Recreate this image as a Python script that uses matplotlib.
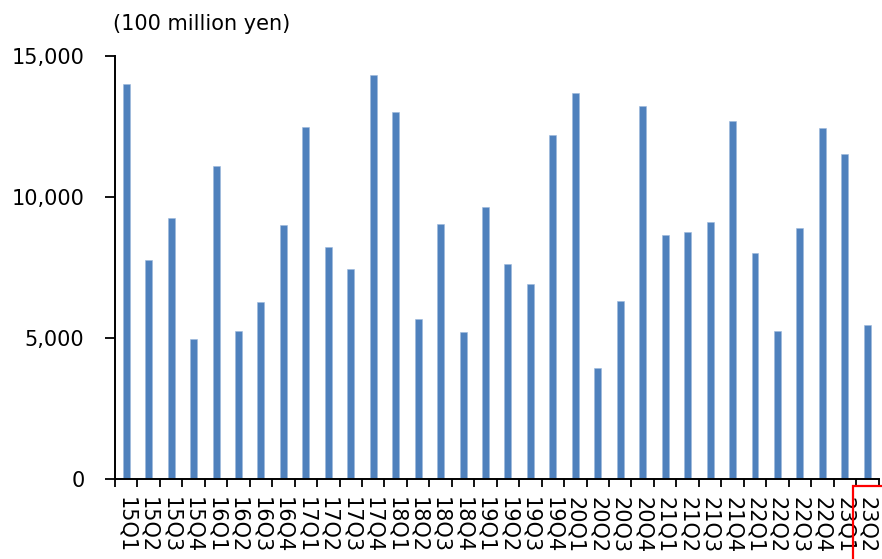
import matplotlib
matplotlib.use("Agg")
import matplotlib.pyplot as plt
from matplotlib.patches import Rectangle
import numpy as np

quarters = [
    "15Q1", "15Q2", "15Q3", "15Q4",
    "16Q1", "16Q2", "16Q3", "16Q4",
    "17Q1", "17Q2", "17Q3", "17Q4",
    "18Q1", "18Q2", "18Q3", "18Q4",
    "19Q1", "19Q2", "19Q3", "19Q4",
    "20Q1", "20Q2", "20Q3", "20Q4",
    "21Q1", "21Q2", "21Q3", "21Q4",
    "22Q1", "22Q2", "22Q3", "22Q4",
    "23Q1", "23Q2",
]
values = [
    14020, 7780, 9255, 4975,
    11085, 5250, 6280, 9010,
    12480, 8230, 7460, 14330,
    13015, 5675, 9055, 5215,
    9660, 7635, 6935, 12200,
    13675, 3950, 6310, 13230,
    8665, 8780, 9135, 12695,
    8025, 5270, 8900, 12435,
    11545, 5460,
]
y_ticks = [0, 5000, 10000, 15000]
unit_label = "(100 million yen)"

plt.rcParams["font.family"] = ["DejaVu Sans"]

fig = plt.figure(figsize=(8.82, 5.59), dpi=100)
W, H = 882, 559
left, right, top, bottom = 115, 878.5, 56, 479.3
ax = fig.add_axes([left / W, 1 - bottom / H, (right - left) / W, (bottom - top) / H])

n = len(quarters)
x = np.arange(n)
ax.bar(x, values, width=0.31, color="#4F81BD", edgecolor="#9DB8DC", linewidth=0.4)

ax.set_xlim(-0.5, n - 0.5)
ax.set_ylim(0, 15000)

# category labels at bar centres, tick marks on the boundaries
ax.set_xticks(x)
ax.set_xticklabels(quarters, rotation=-90, fontsize=15, va="top", ha="center")
ax.tick_params(axis="x", which="major", length=0, pad=13)
ax.set_xticks(np.arange(n + 1) - 0.5, minor=True)
ax.tick_params(axis="x", which="minor", length=6, width=1.3, direction="out")

ax.set_yticks(y_ticks)
ax.set_yticklabels([f"{v:,}" for v in y_ticks], fontsize=15)
ax.tick_params(axis="y", length=7, width=1.3, direction="out", pad=15)

for side in ("top", "right"):
    ax.spines[side].set_visible(False)
for side in ("left", "bottom"):
    ax.spines[side].set_linewidth(1.4)
    ax.spines[side].set_color("black")

fig.text(113 / W, 1 - 24 / H, unit_label, fontsize=15, ha="left", va="center")

# highlight frame around the latest quarter's label
frame = Rectangle((852.7 / W, -0.3), 0.5, 0.3 + 1 - 485.7 / H, transform=fig.transFigure,
                  fill=False, edgecolor="#FF0000", linewidth=1.6, clip_on=False)
fig.patches.append(frame)

fig.savefig("out.png", dpi=100, facecolor="white")
